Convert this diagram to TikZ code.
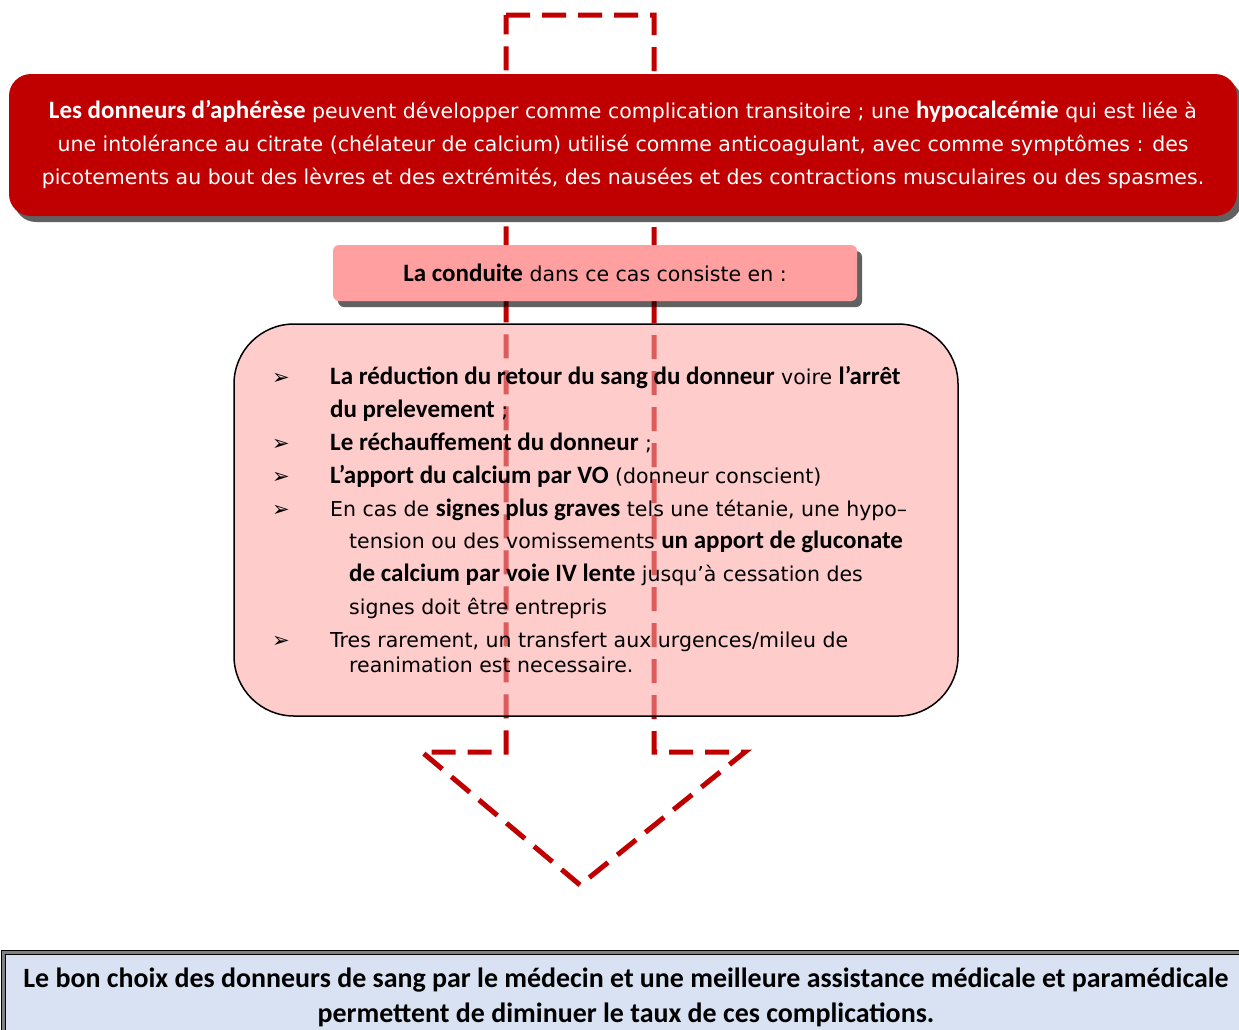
\documentclass[tikz,border=0pt]{standalone}
\usepackage{fontspec}
\setmainfont{DejaVu Sans}
\newfontfamily\cbfont{Carlito}[Scale=1.22]
\usepackage{xcolor}
\usepackage{tikz}
\usetikzlibrary{shadows}
\definecolor{darkred}{HTML}{C00000}
\definecolor{salmon}{HTML}{FF9F9F}
\definecolor{listpink}{HTML}{FFCCCC}
\definecolor{paleblue}{HTML}{D9E2F3}
\newcommand{\hl}[1]{{\cbfont\bfseries #1}}
\tikzset{
  % Boites
  box shadow/.style={drop shadow={shadow xshift=5pt,shadow yshift=-6pt,fill=black,opacity=0.62}},
  box head/.style={box shadow,rounded corners=22,fill=darkred,text=white,minimum width=1228,minimum height=142,inner sep=0,align=center,font=\fontsize{20.5}{33}\selectfont},
  box lead/.style={box shadow,rounded corners=6,fill=salmon,text=black,minimum width=524,minimum height=56,inner sep=0,font=\fontsize{20.5}{33}\selectfont},
  box list/.style={rounded corners=60,draw=black,line width=1.5,fill=listpink,minimum width=724,minimum height=392,inner sep=0},
  box end/.style={draw=black,line width=1,double=black!50,double distance=3,fill=paleblue,minimum width=1245,minimum height=89,inner sep=0,align=center,font=\cbfont\bfseries\fontsize{22.9}{35}\selectfont},
  % Fleche en pointilles
  arrow dash/.style={darkred,line width=5,dash pattern=on 24pt off 12pt},
  % Lignes de la liste
  item text/.style={anchor=base west,inner sep=0,font=\fontsize{20.5}{33}\selectfont},
  item mark/.style={anchor=base,inner sep=0,font=\fontsize{21}{21}\selectfont}
}
\begin{document}
\begin{tikzpicture}[x=1pt,y=-1pt]
\useasboundingbox (0,0) rectangle (1239,1029);
\clip (0,0) rectangle (1239,1029);

% Fond de la liste
\fill[listpink,rounded corners=60] (234,324) rectangle (958,716);

% Grande fleche
\draw[arrow dash] (506,15) -- (654,15) -- (654,752) -- (745,752) -- (580,885) -- (422,752) -- (506,752) -- cycle;

% Cadre de la liste
\node (list) [box list,fill opacity=0.45] at (596,520) {};

% Boites du haut
\node (head) [box head] at (623,145) {\hl{Les donneurs d’aphérèse} peuvent développer comme complication transitoire ; une \hl{hypocalcémie} qui est liée à\\
une intolérance au citrate (chélateur de calcium) utilisé comme anticoagulant, avec comme symptômes : des\\
picotements au bout des lèvres et des extrémités, des nausées et des contractions musculaires ou des spasmes.};
\node (lead) [box lead] at (595,273) {\hl{La conduite} dans ce cas consiste en :};

% Puces
\foreach \n/\y in {1/384,2/450,3/483,4/516,5/647}
  \node (mark\n) [item mark] at (281,\y) {➢};

% Lignes
\node (l1) [item text] at (330,384) {\hl{La réduction du retour du sang du donneur} voire \hl{l’arrêt}};
\node (l2) [item text] at (330,417) {\hl{du prelevement} ;};
\node (l3) [item text] at (330,450) {\hl{Le réchauffement du donneur} ;};
\node (l4) [item text] at (330,483) {\hl{L’apport du calcium par VO} (donneur conscient)};
\node (l5) [item text] at (330,516) {En cas de \hl{signes plus graves} tels une tétanie, une hypo–};
\node (l6) [item text] at (349,548) {tension ou des vomissements \hl{un apport de gluconate}};
\node (l7) [item text] at (349,581) {\hl{de calcium par voie IV lente} jusqu’à cessation des};
\node (l8) [item text] at (349,614) {signes doit être entrepris};
\node (l9) [item text] at (330,647) {Tres rarement, un transfert aux urgences/mileu de};
\node (l10) [item text] at (349,672) {reanimation est necessaire.};

% Conclusion
\node (concl) [box end] at (626,997) {Le bon choix des donneurs de sang par le médecin et une meilleure assistance médicale et paramédicale\\
permettent de diminuer le taux de ces complications.};

\end{tikzpicture}
\end{document}
